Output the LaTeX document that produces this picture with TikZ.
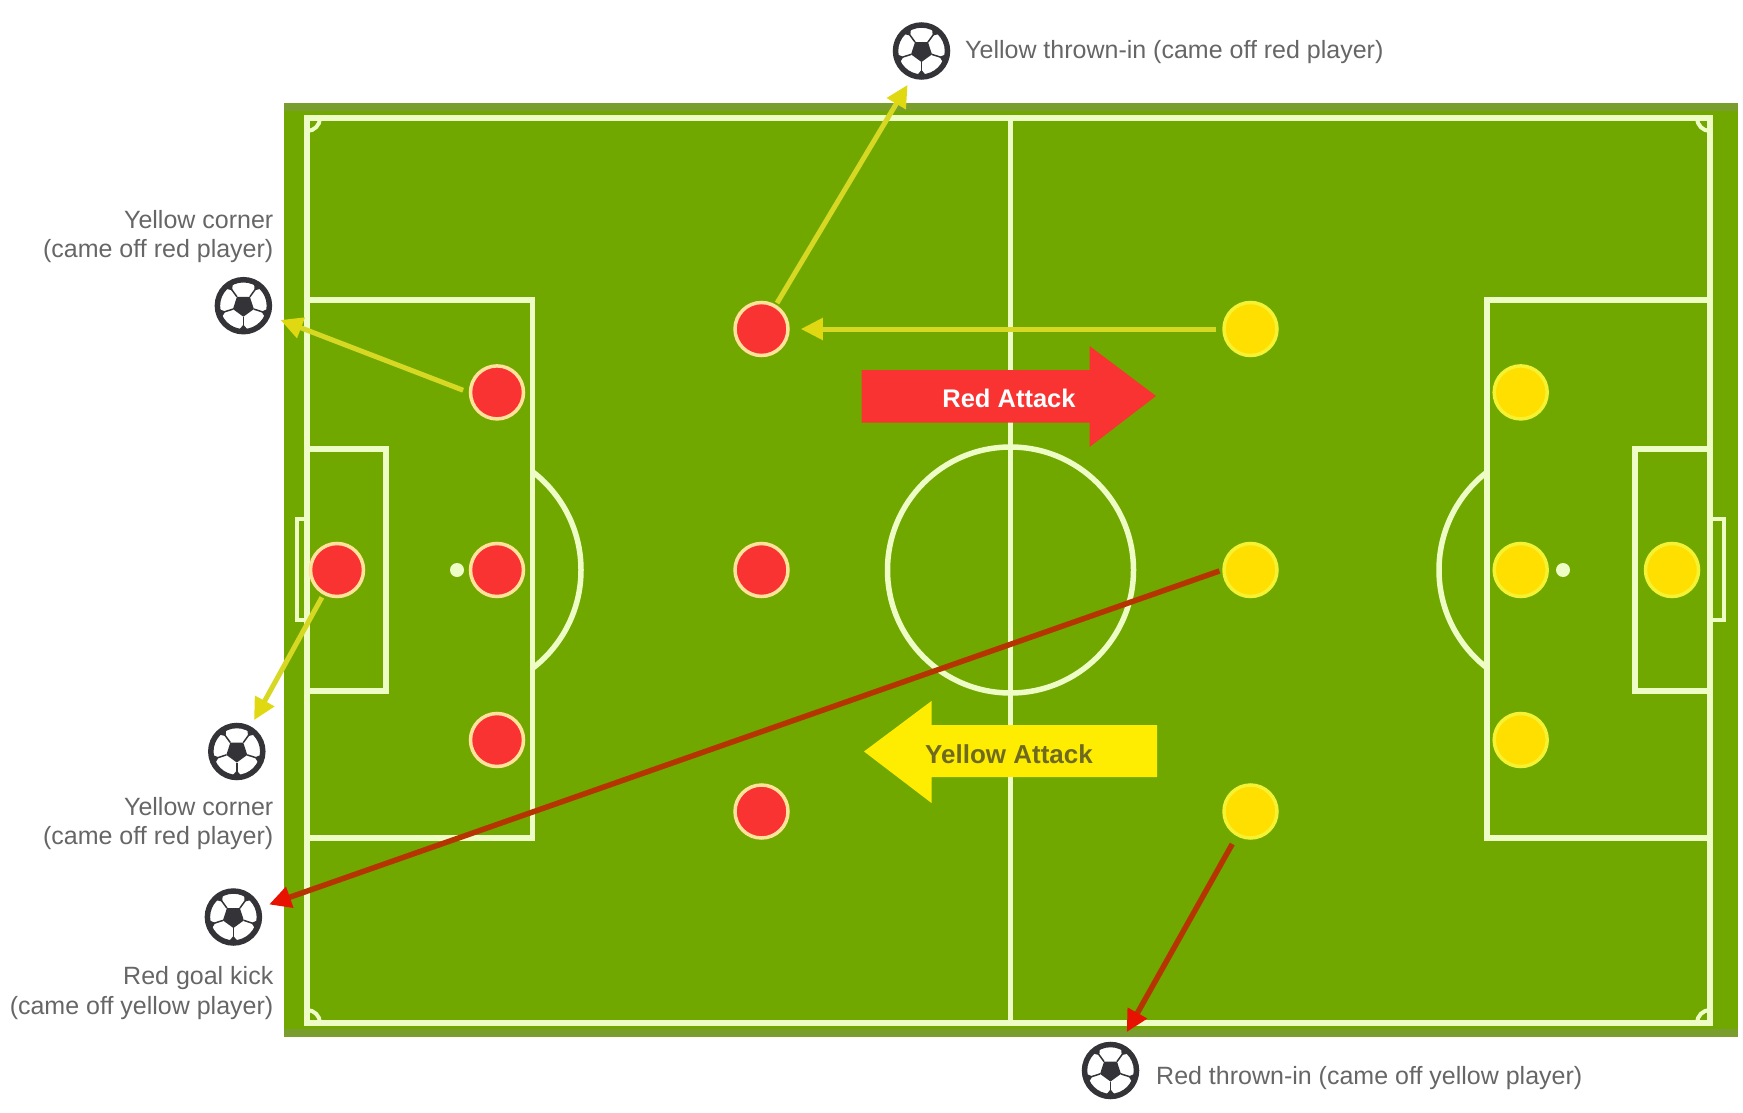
\documentclass[tikz,border=0pt]{standalone}
\usepackage{fontspec}
\setmainfont{Liberation Sans}
\usetikzlibrary{arrows.meta,calc}
\definecolor{grass}{HTML}{70A800}
\definecolor{band}{HTML}{7A9E2E}
\definecolor{chalk}{HTML}{EEFCC6}
\definecolor{redp}{HTML}{F93232}
\definecolor{redring}{HTML}{FFE39A}
\definecolor{yelp}{HTML}{FFDF00}
\definecolor{yelring}{HTML}{F4F232}
\definecolor{yelarrow}{HTML}{D6D824}
\definecolor{yelhead}{HTML}{E0D810}
\definecolor{redline}{HTML}{B63400}
\definecolor{redhead}{HTML}{E81200}
\definecolor{ink}{HTML}{333338}
\definecolor{cap}{HTML}{666666}
\definecolor{yeltext}{HTML}{6E6A20}
\tikzset{
  chalkline/.style={draw=chalk,line width=5.5pt},
  redplayer/.style={circle,inner sep=0pt,minimum size=53pt,fill=redp,draw=redring,line width=3.5pt},
  yelplayer/.style={circle,inner sep=0pt,minimum size=53pt,fill=yelp,draw=yelring,line width=3.5pt},
  caption/.style={text=cap,font=\fontsize{25}{29.5}\selectfont,inner sep=0pt},
  ball/.style={circle,inner sep=0pt,minimum size=52pt,fill=white,draw=ink,line width=5.5pt,
    path picture={
      \coordinate (bc) at (path picture bounding box.center);
      \fill[ink] ($(bc)+(90:11)$) -- ($(bc)+(162:11)$) -- ($(bc)+(234:11)$) -- ($(bc)+(306:11)$) -- ($(bc)+(18:11)$) -- cycle;
      \foreach \a in {90,162,234,306,18}{
        \draw[ink,line width=1.5pt] ($(bc)+(\a:11)$) -- ($(bc)+(\a:20)$);
        \fill[ink] ($(bc)+(\a:19)$) -- ($(bc)+(\a+16:30)$) -- ($(bc)+(\a-16:30)$) -- cycle;
      }
    }},
  yelarrowline/.style={draw=yelarrow,line width=5pt,-{Triangle[length=22pt,width=21pt,color=yelhead]}},
  redarrowline/.style={draw=redline,line width=5.5pt,-{Triangle[length=22pt,width=21pt,color=redhead]}},
}
\begin{document}
\begin{tikzpicture}[x=1pt,y=-1pt]
\useasboundingbox (0,0) rectangle (1743,1113);
% pitch
\fill[grass] (283.5,103) rectangle (1737.5,1037);
\fill[band] (283.5,103) rectangle (1737.5,111);
\fill[band] (283.5,1029) rectangle (1737.5,1037);
% lines
\draw[chalkline] (307,118) rectangle (1710,1023);
\draw[chalkline] (1010.5,118) -- (1010.5,1023);
\draw[chalkline] (1010.5,570) circle[radius=123];
\draw[chalkline] (307,300) rectangle (532.5,838);
\draw[chalkline] (1710,300) rectangle (1487,838);
\draw[chalkline] (307,449) rectangle (386,691);
\draw[chalkline] (1710,449) rectangle (1635,691);
\draw[chalkline,line width=4pt] (307,519) -- (297,519) -- (297,620) -- (307,620);
\draw[chalkline,line width=4pt] (1710,519) -- (1724,519) -- (1724,620) -- (1710,620);
\fill[chalk] (457,570) circle[radius=7];
\fill[chalk] (1563,570) circle[radius=7];
\begin{scope}
  \clip (532.5,400) rectangle (700,740);
  \draw[chalkline] (457,570) circle[radius=124];
\end{scope}
\begin{scope}
  \clip (1487,400) rectangle (1300,740);
  \draw[chalkline] (1563,570) circle[radius=124];
\end{scope}
\begin{scope}
  \clip (307,118) rectangle (1710,1023);
  \foreach \cx/\cy in {307/118,1710/118,307/1023,1710/1023}
    \draw[chalk,line width=4pt] (\cx,\cy) circle[radius=13];
\end{scope}
% big arrows
\fill[redp] (861.5,370) -- (1089.5,370) -- (1089.5,346) -- (1156,396) -- (1089.5,447) -- (1089.5,422.5) -- (861.5,422.5) -- cycle;
\node[text=white,font=\fontsize{25.5}{28}\selectfont\bfseries,inner sep=0pt] (redlabel) at (1009,398) {Red Attack};
\fill[yellow!95!orange] (1157,725) -- (931.5,725) -- (931.5,701) -- (864,751.5) -- (931.5,803) -- (931.5,777) -- (1157,777) -- cycle;
\node[text=yeltext,font=\fontsize{26}{28}\selectfont\bfseries,inner sep=0pt] (yellabel) at (1009,754) {Yellow Attack};
% players
\node[redplayer] (r1) at (337,570) {};
\node[redplayer] (r2) at (497,392.4) {};
\node[redplayer] (r3) at (497,570) {};
\node[redplayer] (r4) at (497,740) {};
\node[redplayer] (r5) at (761.5,329) {};
\node[redplayer] (r6) at (761.5,570) {};
\node[redplayer] (r7) at (761.5,811.5) {};
\node[yelplayer] (y1) at (1250.5,329) {};
\node[yelplayer] (y2) at (1250.5,570) {};
\node[yelplayer] (y3) at (1250.5,811.5) {};
\node[yelplayer] (y4) at (1520.7,392.4) {};
\node[yelplayer] (y5) at (1520.7,570) {};
\node[yelplayer] (y6) at (1520.7,740) {};
\node[yelplayer] (y7) at (1672,570) {};
% balls
\node[ball] (bt) at (921.5,51) {};
\node[ball] (bl1) at (243.4,305.7) {};
\node[ball] (bl2) at (236.8,751.5) {};
\node[ball] (bl3) at (233.4,917) {};
\node[ball] (bb) at (1110.5,1070.5) {};
% captions
\node[caption,anchor=west] (ct) at (965,52) {Yellow thrown-in (came off red player)};
\node[caption,anchor=east,align=right] (c1) at (273.5,236.5) {Yellow corner\\(came off red player)};
\node[caption,anchor=east,align=right] (c2) at (273.5,823.5) {Yellow corner\\(came off red player)};
\node[caption,anchor=east,align=right] (c3) at (273.5,993) {Red goal kick\\(came off yellow player)};
\node[caption,anchor=west] (cb) at (1156,1078) {Red thrown-in (came off yellow player)};
% connectors
\draw[yelarrowline,shorten <=2pt,shorten >=8pt] (r5) -- (bt.250);
\draw[yelarrowline,shorten <=6pt,shorten >=11pt] (y1) -- (r5);
\draw[yelarrowline,shorten <=6pt,shorten >=11pt] (r2.west) -- (bl1);
\draw[yelarrowline,shorten <=3pt,shorten >=7pt] (r1) -- (bl2);
\draw[redarrowline,shorten <=3pt,shorten >=9pt] (y2.west) -- (bl3);
\draw[redarrowline,shorten <=9pt,shorten >=13pt] (y3) -- (bb.70);
\end{tikzpicture}
\end{document}
